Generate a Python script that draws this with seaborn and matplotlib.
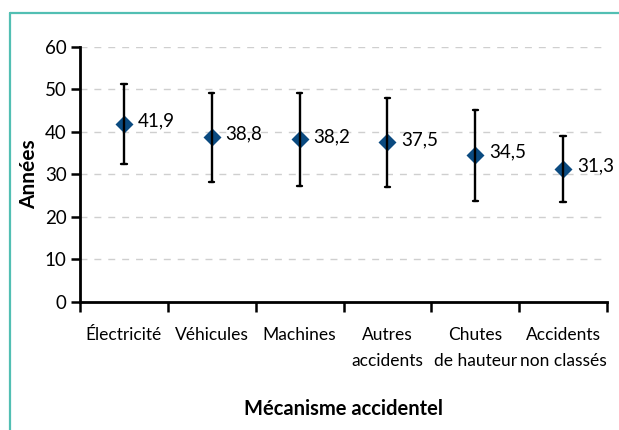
import numpy as np
import pandas as pd
import seaborn as sns
import matplotlib.pyplot as plt
from matplotlib.lines import Line2D

# Données
mecanismes = ["Électricité", "Véhicules", "Machines", "Autres\naccidents",
              "Chutes\nde hauteur", "Accidents\nnon classés"]
valeurs = [41.9, 38.8, 38.2, 37.5, 34.5, 31.3]
bas = [32.3, 28.2, 27.2, 27.1, 23.7, 23.4]
haut = [51.1, 49.1, 49.0, 47.8, 45.0, 39.0]
etiquettes = ["41,9", "38,8", "38,2", "37,5", "34,5", "31,3"]

# format long : bas / valeur / haut par mécanisme
rows = []
for m, v, b, h in zip(mecanismes, valeurs, bas, haut):
    for y in (b, v, h):
        rows.append({"mecanisme": m, "annees": y})
df = pd.DataFrame(rows)

sns.set_theme(style="white")
plt.rcParams['font.family'] = ['Lato', 'DejaVu Sans']
plt.rcParams['text.color'] = 'black'
plt.rcParams['xtick.color'] = 'black'
plt.rcParams['ytick.color'] = 'black'
plt.rcParams['axes.labelcolor'] = 'black'

fig = plt.figure(figsize=(6.19, 4.30), dpi=100)
ax = fig.add_axes([80 / 619, 1 - 302 / 430, (607 - 80) / 619, (302 - 46.5) / 430])

sns.pointplot(data=df, x="mecanisme", y="annees", order=mecanismes,
              estimator=np.median, errorbar=lambda x: (x.min(), x.max()),
              markers="D", linestyle="none", color="#0a4a80", markersize=7.5,
              capsize=0.06, err_kws={"color": "black", "linewidth": 1.7}, ax=ax)

for i, (v, t) in enumerate(zip(valeurs, etiquettes)):
    ax.annotate(t, (i, v), xytext=(10, 2), textcoords="offset points",
                ha="left", va="center", fontsize=13.5)

ax.set_ylim(0, 60)
ax.set_xlim(-0.5, len(mecanismes) - 0.5)
ax.set_yticks(range(0, 61, 10))

# ticks aux limites des catégories, libellés au centre
ax.set_xticks(np.arange(-0.5, len(mecanismes), 1.0))
ax.set_xticklabels([])
ax.set_xticks(range(len(mecanismes)), minor=True)
ax.set_xticklabels(mecanismes, minor=True, fontsize=12.5, linespacing=1.8, va="top")
ax.tick_params(axis="x", which="major", direction="out", length=7, width=1.8,
               color="black", bottom=True)
ax.tick_params(axis="x", which="minor", length=0, pad=18)
ax.tick_params(axis="y", direction="out", length=6.5, width=1.8, color="black",
               left=True, labelsize=13.5, pad=3)

ax.yaxis.grid(True, linestyle=(0, (5, 5)), color="#cfcfcf", linewidth=1)
ax.set_axisbelow(True)
for s in ["top", "right"]:
    ax.spines[s].set_visible(False)
for s in ["left", "bottom"]:
    ax.spines[s].set_color("black")
    ax.spines[s].set_linewidth(2)

ax.set_xlabel("")
ax.set_ylabel("Années", fontsize=15, fontweight="bold", labelpad=4)
fig.text(343 / 619, 1 - 409 / 430, "Mécanisme accidentel", ha="center",
         va="center", fontsize=14.5, fontweight="bold")

# cadre turquoise
fig.add_artist(Line2D([10 / 619, 10 / 619], [0, 1 - 13 / 430], color="#52bfb3",
                      linewidth=1.6, transform=fig.transFigure))
fig.add_artist(Line2D([10 / 619, 1], [1 - 13 / 430, 1 - 13 / 430], color="#52bfb3",
                      linewidth=1.6, transform=fig.transFigure))

fig.savefig("out.png", dpi=100)
